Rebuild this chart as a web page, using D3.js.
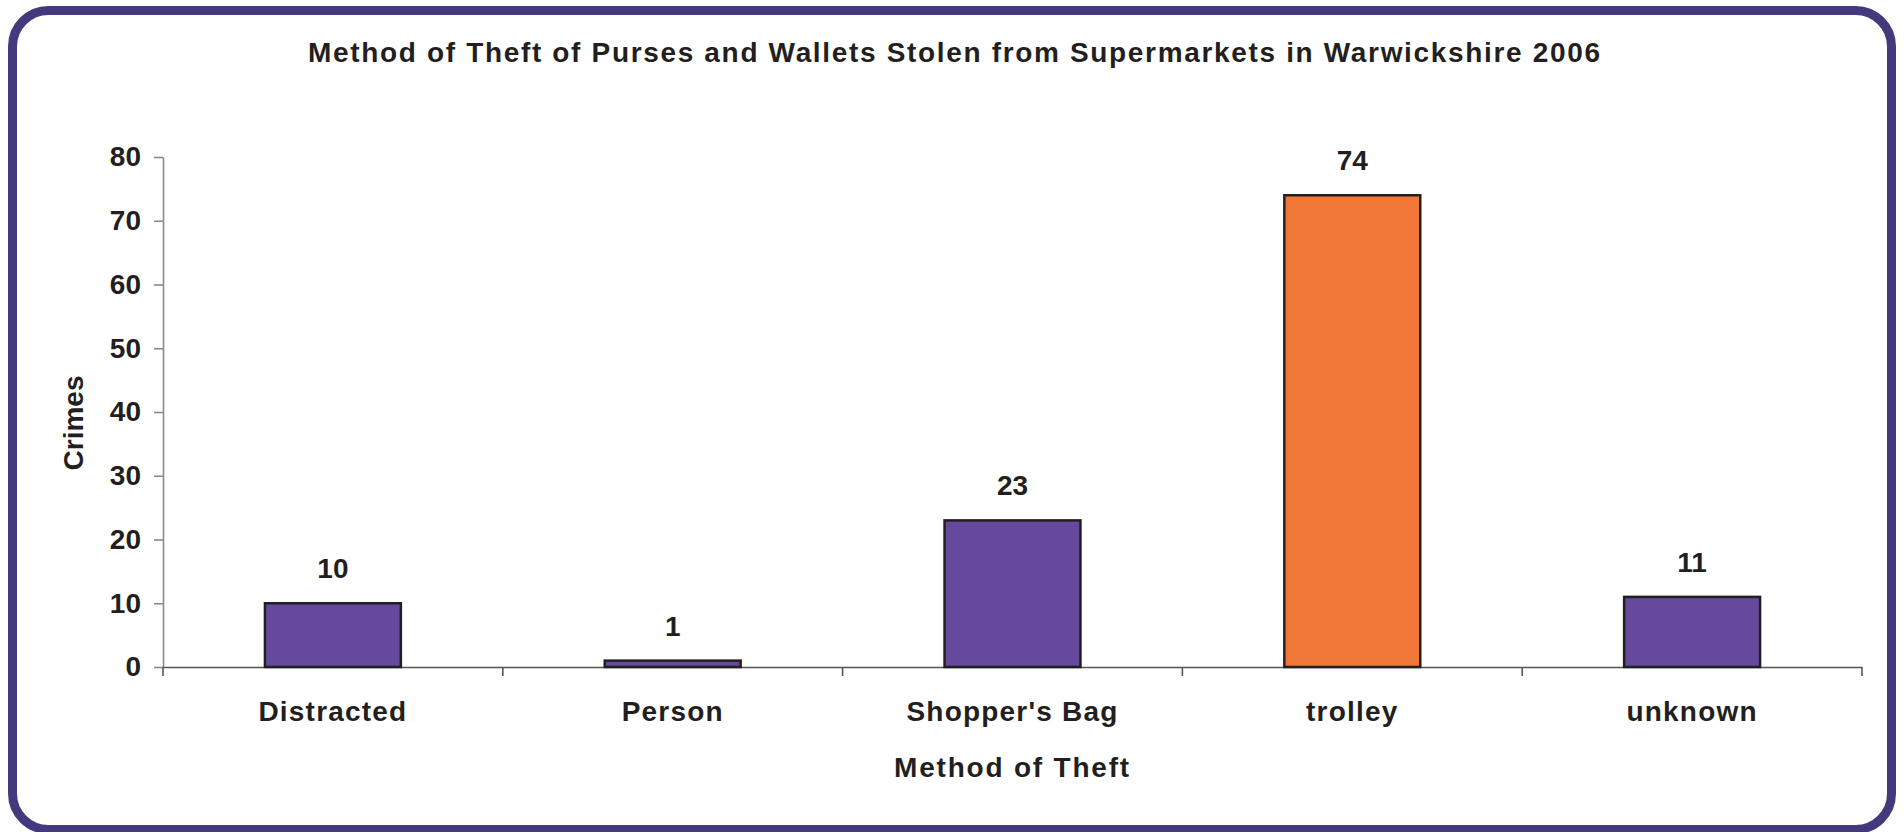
<!DOCTYPE html>
<html>
<head>
<meta charset="utf-8">
<script src="https://cdn.jsdelivr.net/npm/d3@7"></script>
<style>
  html, body { margin: 0; padding: 0; background: #ffffff; }
  svg { display: block; }
  text { font-family: "Liberation Sans", Arial, sans-serif; font-weight: bold; fill: #231f20; }
</style>
</head>
<body>
<script>
// ---- Data ----
const categories = ["Distracted", "Person", "Shopper's Bag", "trolley", "unknown"];
const crimes = [10, 1, 23, 74, 11];
const highlight = ["trolley"];
const yTicks = [0, 10, 20, 30, 40, 50, 60, 70, 80];
const titleText = "Method of Theft of Purses and Wallets Stolen from Supermarkets in Warwickshire 2006";
const xTitle = "Method of Theft";
const yTitle = "Crimes";

// ---- Layout ----
const W = 1904, H = 832;
const plot = { left: 163, right: 1862, top: 157, bottom: 667 };
const purple = "#65499c", orange = "#f07735", borderColor = "#433a7e";
const fontSize = 28;

const svg = d3.select("body").append("svg").attr("width", W).attr("height", H);

// rounded frame
svg.append("rect")
  .attr("x", 12.5).attr("y", 10.5)
  .attr("width", 1879).attr("height", 819)
  .attr("rx", 36).attr("ry", 36)
  .attr("fill", "#ffffff")
  .attr("stroke", borderColor).attr("stroke-width", 9);

// title
svg.append("text")
  .attr("x", 954).attr("y", 62)
  .attr("text-anchor", "middle")
  .attr("font-size", fontSize)
  .attr("textLength", 1292).attr("lengthAdjust", "spacing")
  .text(titleText);

// scales
const x = d3.scaleBand().domain(categories)
  .range([plot.left, plot.right])
  .paddingInner(0.6).paddingOuter(0.3);
const y = d3.scaleLinear().domain([0, 80]).range([plot.bottom, plot.top]);

// y axis
const yAxis = svg.append("g")
  .attr("transform", `translate(${plot.left},0)`)
  .call(d3.axisLeft(y).tickValues(yTicks).tickSize(9).tickPadding(13).tickSizeOuter(0));
yAxis.select(".domain").attr("stroke", "#8a8a8a").attr("stroke-width", 1.6);
yAxis.selectAll(".tick line").attr("stroke", "#8a8a8a").attr("stroke-width", 1.6);
yAxis.selectAll(".tick text")
  .attr("font-size", fontSize).attr("font-family", "Liberation Sans, Arial, sans-serif")
  .attr("font-weight", "bold").attr("fill", "#231f20");

// x axis: labels at band centers, ticks at band boundaries
const xAxis = svg.append("g")
  .attr("transform", `translate(0,${plot.bottom})`)
  .call(d3.axisBottom(x).tickSize(0).tickPadding(34).tickSizeOuter(0));
xAxis.select(".domain").attr("stroke", "#555555").attr("stroke-width", 1.6)
  .attr("d", `M${plot.left},0.5H${plot.right}`);
xAxis.selectAll(".tick text")
  .attr("font-size", fontSize).attr("font-family", "Liberation Sans, Arial, sans-serif")
  .attr("font-weight", "bold").attr("fill", "#231f20")
  .style("letter-spacing", "1.2px");

const step = x.step();
const boundaries = d3.range(categories.length + 1).map(i => plot.left + i * step);
xAxis.selectAll(".bound").data(boundaries).join("line")
  .attr("class", "bound")
  .attr("x1", d => d).attr("x2", d => d)
  .attr("y1", 0).attr("y2", 9)
  .attr("stroke", "#555555").attr("stroke-width", 1.6);

// bars
svg.append("g").selectAll("rect").data(categories).join("rect")
  .attr("x", d => x(d))
  .attr("y", (d, i) => y(crimes[i]))
  .attr("width", x.bandwidth())
  .attr("height", (d, i) => y(0) - y(crimes[i]))
  .attr("fill", d => highlight.includes(d) ? orange : purple)
  .attr("stroke", "#231f20").attr("stroke-width", 2.5);

// value labels
svg.append("g").selectAll("text").data(categories).join("text")
  .attr("x", d => x(d) + x.bandwidth() / 2)
  .attr("y", (d, i) => y(crimes[i]) - 25)
  .attr("text-anchor", "middle")
  .attr("font-size", fontSize)
  .text((d, i) => crimes[i]);

// axis titles
svg.append("text")
  .attr("x", (plot.left + plot.right) / 2).attr("y", 777)
  .attr("text-anchor", "middle")
  .attr("font-size", fontSize)
  .style("letter-spacing", "1.8px")
  .text(xTitle);

svg.append("text")
  .attr("transform", "translate(83,423) rotate(-90)")
  .attr("text-anchor", "middle")
  .attr("font-size", fontSize)
  .text(yTitle);
</script>
</body>
</html>
